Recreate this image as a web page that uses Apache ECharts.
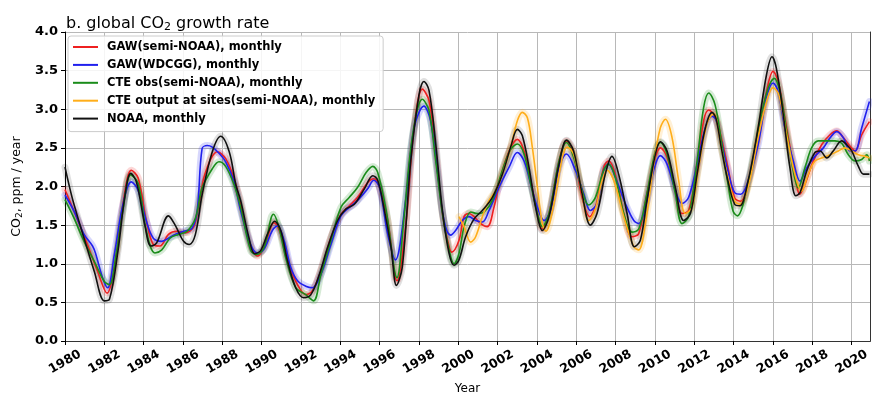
<!DOCTYPE html>
<html>
<head>
<meta charset="utf-8">
<script src="https://cdn.jsdelivr.net/npm/echarts@6/dist/echarts.min.js"></script>
<style>
  html, body { margin: 0; padding: 0; background: #fff; }
  #chart { width: 872px; height: 397px; }
</style>
</head>
<body>
<div id="chart"></div>
<script>
// [year, ppm/yr]
var gawSemiNoaa = [[1980.0,1.96],[1980.46,1.68],[1981.14,1.25],[1981.66,0.90],[1982.14,0.62],[1982.51,0.95],[1982.94,1.76],[1983.37,2.21],[1983.72,2.11],[1984.14,1.55],[1984.49,1.25],[1984.83,1.23],[1985.26,1.38],[1985.69,1.42],[1986.12,1.40],[1986.55,1.48],[1986.8,1.76],[1987.15,2.19],[1987.75,2.45],[1988.17,2.36],[1988.6,2.1],[1988.93,1.77],[1989.35,1.30],[1989.78,1.10],[1990.12,1.21],[1990.63,1.53],[1990.97,1.38],[1991.39,0.99],[1991.82,0.73],[1992.24,0.60],[1992.58,0.65],[1993.01,0.91],[1993.52,1.34],[1994.03,1.64],[1994.46,1.75],[1994.88,1.86],[1995.39,2.05],[1995.7,2.10],[1995.99,1.99],[1996.41,1.56],[1996.88,0.78],[1997.32,1.48],[1997.75,2.76],[1998.17,3.26],[1998.51,3.11],[1998.85,2.46],[1999.19,1.65],[1999.53,1.22],[1999.66,1.15],[2000.03,1.30],[2000.29,1.61],[2000.54,1.65],[2000.8,1.61],[2001.14,1.52],[2001.47,1.48],[2001.81,1.73],[2002.15,2.12],[2002.58,2.46],[2003.0,2.61],[2003.34,2.46],[2003.68,2.08],[2004.02,1.65],[2004.27,1.45],[2004.61,1.65],[2005.12,2.33],[2005.5,2.59],[2005.86,2.42],[2006.29,1.86],[2006.68,1.61],[2007.02,1.78],[2007.39,2.25],[2007.64,2.33],[2007.98,2.16],[2008.41,1.65],[2008.83,1.35],[2009.17,1.39],[2009.59,1.91],[2010.02,2.38],[2010.27,2.50],[2010.61,2.38],[2011.03,1.95],[2011.37,1.65],[2011.71,1.69],[2012.14,2.25],[2012.47,2.85],[2012.73,2.99],[2013.1,2.88],[2013.37,2.63],[2013.71,2.24],[2014.05,1.85],[2014.36,1.81],[2014.73,2.03],[2015.24,2.63],[2015.67,3.23],[2016.0,3.49],[2016.26,3.36],[2016.6,2.89],[2017.03,2.28],[2017.37,1.90],[2017.62,2.03],[2018.05,2.33],[2018.47,2.54],[2018.9,2.67],[2019.24,2.72],[2019.58,2.63],[2019.92,2.52],[2020.17,2.46],[2020.51,2.67],[2020.9,2.84]];

var gawWdcgg = [[1980.0,1.89],[1980.46,1.68],[1980.97,1.38],[1981.4,1.23],[1981.57,1.12],[1981.91,0.82],[1982.17,0.69],[1982.51,1.12],[1982.94,1.76],[1983.37,2.06],[1983.72,1.95],[1984.14,1.55],[1984.49,1.33],[1984.92,1.29],[1985.26,1.33],[1985.6,1.38],[1986.03,1.42],[1986.46,1.46],[1986.72,1.68],[1986.97,2.49],[1987.23,2.53],[1987.49,2.51],[1987.83,2.43],[1988.17,2.32],[1988.6,2.06],[1988.93,1.69],[1989.44,1.25],[1989.78,1.14],[1990.12,1.19],[1990.54,1.43],[1990.8,1.49],[1991.14,1.30],[1991.48,0.95],[1991.82,0.78],[1992.24,0.71],[1992.58,0.69],[1993.01,0.86],[1993.52,1.25],[1994.03,1.62],[1994.46,1.73],[1994.88,1.82],[1995.39,1.97],[1995.7,2.08],[1995.99,1.99],[1996.41,1.38],[1996.8,1.05],[1997.32,1.82],[1997.75,2.76],[1998.25,3.04],[1998.59,2.85],[1998.93,2.21],[1999.27,1.56],[1999.61,1.37],[1999.86,1.43],[2000.2,1.56],[2000.54,1.61],[2000.88,1.56],[2001.22,1.54],[2001.56,1.69],[2002.07,1.99],[2002.58,2.25],[2003.0,2.44],[2003.34,2.33],[2003.68,2.03],[2004.02,1.73],[2004.36,1.56],[2004.69,1.69],[2005.12,2.25],[2005.5,2.42],[2005.95,2.21],[2006.37,1.91],[2006.71,1.69],[2007.05,1.78],[2007.39,2.21],[2007.64,2.29],[2007.98,2.12],[2008.49,1.78],[2008.92,1.56],[2009.17,1.52],[2009.51,1.73],[2009.93,2.21],[2010.27,2.40],[2010.61,2.29],[2011.03,1.95],[2011.37,1.78],[2011.71,1.86],[2012.14,2.29],[2012.56,2.76],[2012.9,2.91],[2013.1,2.86],[2013.37,2.59],[2013.71,2.2],[2014.05,1.92],[2014.36,1.90],[2014.73,2.07],[2015.24,2.54],[2015.67,3.15],[2016.0,3.34],[2016.26,3.23],[2016.6,2.76],[2017.03,2.33],[2017.37,2.07],[2017.71,2.24],[2018.13,2.39],[2018.56,2.50],[2018.9,2.63],[2019.24,2.71],[2019.58,2.63],[2019.92,2.46],[2020.17,2.46],[2020.51,2.76],[2020.9,3.1]];

var cteObs = [[1980.0,1.83],[1980.46,1.59],[1980.97,1.29],[1981.49,1.03],[1982.0,0.77],[1982.26,0.73],[1982.6,1.12],[1982.94,1.68],[1983.34,2.15],[1983.72,2.04],[1984.14,1.42],[1984.57,1.14],[1984.92,1.18],[1985.34,1.33],[1985.77,1.38],[1986.2,1.42],[1986.63,1.59],[1986.97,1.98],[1987.49,2.23],[1987.83,2.32],[1988.17,2.26],[1988.6,2.02],[1988.93,1.73],[1989.44,1.17],[1989.74,1.12],[1990.12,1.21],[1990.6,1.64],[1990.88,1.47],[1991.22,1.08],[1991.73,0.69],[1992.24,0.60],[1992.64,0.52],[1993.01,0.86],[1993.52,1.30],[1994.03,1.73],[1994.46,1.86],[1994.88,1.99],[1995.31,2.18],[1995.65,2.26],[1995.9,2.18],[1996.33,1.69],[1996.88,0.82],[1997.24,1.61],[1997.66,2.64],[1998.17,3.13],[1998.51,2.98],[1998.85,2.33],[1999.19,1.65],[1999.53,1.18],[1999.78,1.0],[2000.03,1.13],[2000.29,1.48],[2000.63,1.67],[2000.97,1.65],[2001.31,1.67],[2001.73,1.82],[2002.24,2.21],[2002.66,2.48],[2003.0,2.55],[2003.34,2.42],[2003.68,2.03],[2004.02,1.65],[2004.27,1.48],[2004.61,1.65],[2005.12,2.33],[2005.5,2.57],[2005.86,2.38],[2006.29,1.95],[2006.63,1.76],[2006.97,1.86],[2007.39,2.21],[2007.64,2.29],[2007.98,2.12],[2008.41,1.65],[2008.83,1.41],[2009.17,1.45],[2009.59,1.91],[2010.02,2.46],[2010.27,2.57],[2010.61,2.42],[2011.03,1.91],[2011.37,1.52],[2011.71,1.61],[2012.14,2.33],[2012.47,3.02],[2012.73,3.21],[2013.05,3.06],[2013.37,2.59],[2013.71,2.03],[2013.97,1.68],[2014.19,1.62],[2014.48,1.77],[2014.9,2.24],[2015.33,2.84],[2015.76,3.28],[2016.06,3.4],[2016.35,3.23],[2016.69,2.72],[2017.03,2.2],[2017.28,1.98],[2017.62,2.24],[2017.96,2.5],[2018.3,2.59],[2018.73,2.59],[2019.15,2.59],[2019.49,2.56],[2019.83,2.41],[2020.17,2.33],[2020.51,2.35],[2020.77,2.41],[2020.9,2.33]];

var cteOutput = [[2000.03,1.61],[2000.29,1.48],[2000.63,1.28],[2000.88,1.35],[2001.22,1.61],[2001.56,1.82],[2001.9,1.95],[2002.24,2.16],[2002.66,2.51],[2003.0,2.85],[2003.25,2.96],[2003.51,2.89],[2003.76,2.51],[2004.02,1.99],[2004.27,1.52],[2004.45,1.42],[2004.86,1.78],[2005.29,2.38],[2005.53,2.51],[2005.86,2.42],[2006.29,1.91],[2006.63,1.56],[2006.97,1.71],[2007.31,2.08],[2007.56,2.21],[2007.9,2.08],[2008.41,1.61],[2008.92,1.22],[2009.17,1.18],[2009.51,1.52],[2009.93,2.29],[2010.27,2.76],[2010.53,2.87],[2010.86,2.64],[2011.2,2.08],[2011.54,1.65],[2011.88,1.73],[2012.22,2.25],[2012.64,2.81],[2012.98,2.94],[2013.1,2.89],[2013.37,2.5],[2013.71,2.11],[2014.05,1.81],[2014.31,1.77],[2014.73,1.99],[2015.24,2.63],[2015.67,3.1],[2016.0,3.28],[2016.29,3.19],[2016.69,2.67],[2017.11,2.16],[2017.45,1.94],[2017.79,2.16],[2018.13,2.33],[2018.47,2.37],[2018.9,2.41],[2019.32,2.46],[2019.66,2.5],[2020.0,2.46],[2020.34,2.41],[2020.68,2.39],[2020.9,2.37]];

var noaa = [[1980.0,2.25],[1980.37,1.85],[1980.97,1.33],[1981.49,0.90],[1982.0,0.52],[1982.26,0.54],[1982.69,1.16],[1983.03,1.85],[1983.34,2.17],[1983.63,2.06],[1984.06,1.50],[1984.37,1.23],[1984.66,1.27],[1985.26,1.62],[1985.6,1.50],[1986.03,1.29],[1986.32,1.25],[1986.63,1.38],[1986.97,1.89],[1987.49,2.45],[1987.92,2.65],[1988.35,2.45],[1988.69,2.02],[1988.93,1.82],[1989.35,1.34],[1989.64,1.13],[1989.95,1.17],[1990.29,1.38],[1990.66,1.55],[1990.97,1.43],[1991.31,1.04],[1991.73,0.69],[1992.13,0.56],[1992.5,0.60],[1992.93,0.86],[1993.35,1.21],[1993.86,1.56],[1994.29,1.71],[1994.71,1.77],[1995.22,1.97],[1995.65,2.14],[1995.9,2.08],[1996.24,1.69],[1996.58,1.21],[1996.85,0.72],[1997.15,0.96],[1997.58,2.33],[1998.0,3.19],[1998.25,3.36],[1998.51,3.24],[1998.85,2.55],[1999.19,1.69],[1999.53,1.13],[1999.78,0.98],[2000.03,1.05],[2000.37,1.35],[2000.8,1.58],[2001.22,1.69],[2001.73,1.86],[2002.24,2.16],[2002.66,2.51],[2003.0,2.74],[2003.25,2.66],[2003.59,2.25],[2003.93,1.73],[2004.27,1.43],[2004.61,1.61],[2005.12,2.29],[2005.5,2.60],[2005.86,2.46],[2006.29,1.91],[2006.71,1.50],[2007.05,1.65],[2007.47,2.16],[2007.81,2.39],[2008.15,2.16],[2008.58,1.65],[2008.95,1.22],[2009.25,1.30],[2009.59,1.82],[2010.02,2.42],[2010.27,2.58],[2010.61,2.46],[2011.03,1.99],[2011.46,1.56],[2011.8,1.65],[2012.14,2.16],[2012.56,2.76],[2012.9,2.96],[2013.1,2.88],[2013.37,2.5],[2013.71,2.07],[2014.05,1.77],[2014.31,1.75],[2014.73,2.07],[2015.24,2.76],[2015.67,3.45],[2015.95,3.68],[2016.17,3.53],[2016.52,2.93],[2016.86,2.24],[2017.16,1.88],[2017.37,1.92],[2017.71,2.2],[2018.13,2.44],[2018.39,2.46],[2018.73,2.37],[2019.06,2.46],[2019.49,2.59],[2019.75,2.54],[2020.0,2.46],[2020.34,2.26],[2020.6,2.16],[2020.9,2.16]];

var seriesNames = ['GAW(semi-NOAA), monthly', 'GAW(WDCGG), monthly', 'CTE obs(semi-NOAA), monthly',
    'CTE output at sites(semi-NOAA), monthly', 'NOAA, monthly'];
var seriesData = [gawSemiNoaa, gawWdcgg, cteObs, cteOutput, noaa];
var lineColors = ['#ee2020', '#2020ee', '#1a8c1a', '#ffae1a', '#111111'];

var font = 'DejaVu Sans';
var myChart = echarts.init(document.getElementById('chart'));

var series = [];
// shaded spread drawn as wide pale strokes under the lines
for (var i = 0; i < seriesData.length; i++) {
    series.push({
        name: seriesNames[i] + ' band',
        type: 'line',
        data: seriesData[i],
        smooth: 0.35,
        showSymbol: false,
        silent: true,
        z: 2,
        lineStyle: { color: lineColors[i], width: 7, opacity: i == 4 ? 0.13 : 0.18, cap: 'round', join: 'round' }
    });
}
for (var j = 0; j < seriesData.length; j++) {
    series.push({
        name: seriesNames[j],
        type: 'line',
        data: seriesData[j],
        smooth: 0.35,
        showSymbol: false,
        z: 3 + j,
        color: lineColors[j],
        lineStyle: { color: lineColors[j], width: 1.6 }
    });
}

var option = {
    animation: false,
    title: {
        text: 'b. global CO{sub|2} growth rate',
        left: 61,
        top: 9,
        textStyle: {
            fontFamily: font, fontSize: 16, fontWeight: 'normal', color: '#000',
            rich: { sub: { fontFamily: font, fontSize: 11, verticalAlign: 'bottom', padding: [8, 0, 0, 0] } }
        }
    },
    legend: {
        data: seriesNames,
        orient: 'vertical',
        left: 68,
        top: 36,
        padding: [4, 8, 6, 5],
        itemGap: 3.9,
        itemWidth: 25,
        itemHeight: 2,
        icon: 'rect',
        backgroundColor: 'rgba(255,255,255,0.85)',
        borderColor: '#cccccc',
        borderWidth: 1,
        borderRadius: 3,
        textStyle: { fontFamily: font, fontSize: 11.5, fontWeight: 'bold', color: '#000', lineHeight: 14, padding: [0, 0, 0, 4] }
    },
    grid: { left: 65, right: 2, top: 32, bottom: 56, containLabel: false, outerBoundsMode: 'none' },
    xAxis: [
        {
            type: 'value',
            min: 1980,
            max: 2020.93,
            interval: 2,
            name: 'Year',
            nameLocation: 'middle',
            nameGap: 42,
            nameTextStyle: { fontFamily: font, fontSize: 12, color: '#000' },
            axisLine: { show: true, lineStyle: { color: '#000', width: 1 } },
            axisTick: { show: true, length: 4, lineStyle: { color: '#000' } },
            axisLabel: {
                showMaxLabel: false,
                rotate: 30,
                align: 'center',
                verticalAlign: 'middle',
                margin: 21,
                fontFamily: font, fontSize: 12.5, fontWeight: 'bold', color: '#000',
                formatter: function (v) { return String(Math.round(v)); }
            },
            splitLine: { show: true, lineStyle: { color: '#b8b8b8', width: 1 } }
        },
        {
            type: 'value',
            position: 'top',
            min: 1980,
            max: 2020.93,
            axisLine: { show: true, lineStyle: { color: '#333', width: 1 } },
            axisTick: { show: false },
            axisLabel: { show: false },
            splitLine: { show: false }
        }
    ],
    yAxis: [
        {
            type: 'value',
            min: 0,
            max: 4,
            interval: 0.5,
            name: 'CO{sub|2}, ppm / year',
            nameLocation: 'middle',
            nameGap: 35,
            nameRotate: 90,
            nameTextStyle: {
                fontFamily: font, fontSize: 12.5, color: '#000',
                rich: { sub: { fontFamily: font, fontSize: 9, verticalAlign: 'bottom', padding: [6, 0, 0, 0] } }
            },
            axisLine: { show: true, lineStyle: { color: '#000', width: 1 } },
            axisTick: { show: true, length: 4, lineStyle: { color: '#000' } },
            axisLabel: {
                margin: 7,
                fontFamily: font, fontSize: 13, fontWeight: 'bold', color: '#000',
                formatter: function (v) { return v.toFixed(1); }
            },
            splitLine: { show: true, lineStyle: { color: '#b8b8b8', width: 1 } }
        },
        {
            type: 'value',
            position: 'right',
            min: 0,
            max: 4,
            axisLine: { show: true, lineStyle: { color: '#333', width: 1 } },
            axisTick: { show: false },
            axisLabel: { show: false },
            splitLine: { show: false }
        }
    ],
    series: series
};

myChart.setOption(option);
</script>
</body>
</html>
